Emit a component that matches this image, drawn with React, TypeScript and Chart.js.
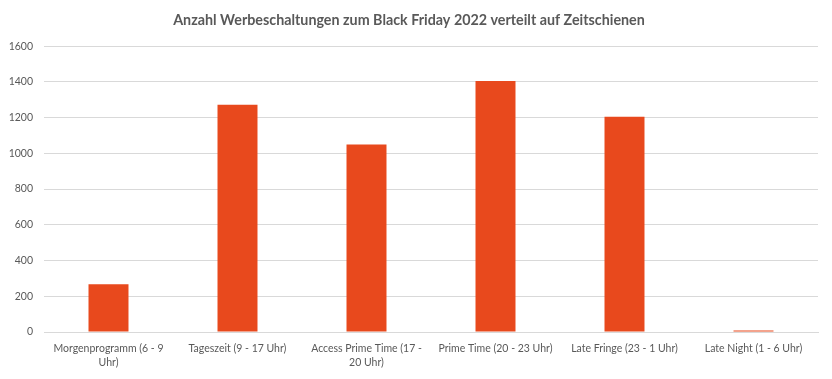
import React, { useEffect, useRef } from "react";
import { Chart, registerables } from "chart.js";

Chart.register(...registerables);

const title = "Anzahl Werbeschaltungen zum Black Friday 2022 verteilt auf Zeitschienen";
const categories: (string | string[])[] = [
  ["Morgenprogramm (6 - 9", "Uhr)"],
  "Tageszeit (9 - 17 Uhr)",
  ["Access Prime Time (17 -", "20 Uhr)"],
  "Prime Time (20 - 23 Uhr)",
  "Late Fringe (23 - 1 Uhr)",
  "Late Night (1 - 6 Uhr)",
];
const values = [267, 1272, 1050, 1405, 1205, 8];
const yMin = 0;
const yMax = 1600;
const yStep = 200;

const FONT = "Lato, 'Open Sans', sans-serif";
const TEXT = "#595959";
const GRID = "#d9d9d9";
const BAR = "#E8491D";

export default function App() {
  const ref = useRef<HTMLCanvasElement | null>(null);
  useEffect(() => {
    if (!ref.current) return;
    const chart = new Chart(ref.current, {
      type: "bar",
      data: {
        labels: categories,
        datasets: [
          {
            data: values,
            backgroundColor: BAR,
            borderWidth: 0,
            categoryPercentage: 1,
            barPercentage: 0.31,
          },
        ],
      },
      options: {
        animation: false,
        responsive: true,
        maintainAspectRatio: false,
        layout: { padding: { left: 0, right: 14, top: 0, bottom: 0 } },
        plugins: {
          legend: { display: false },
          tooltip: { enabled: false },
          title: {
            display: true,
            text: title,
            color: TEXT,
            font: { family: FONT, size: 14.3, weight: "bold", lineHeight: 1.2 },
            padding: { top: 12, bottom: 17 },
          },
        },
        scales: {
          x: {
            grid: { display: false, drawTicks: false },
            border: { display: true, color: GRID, width: 1 },
            ticks: {
              color: TEXT,
              font: { family: FONT, size: 10.5, lineHeight: 1.4 },
              maxRotation: 0,
              minRotation: 0,
              autoSkip: false,
              padding: 9,
            },
            afterFit: (s: any) => {
              s.height = 47;
            },
          },
          y: {
            min: yMin,
            max: yMax,
            grid: { color: GRID, drawTicks: false },
            border: { display: false },
            ticks: {
              stepSize: yStep,
              color: TEXT,
              font: { family: FONT, size: 10.5 },
              padding: 11,
              callback: (v: any) => String(v),
            },
            afterFit: (s: any) => {
              s.width = 44;
            },
          },
        },
      },
    });
    return () => chart.destroy();
  }, []);
  return (
    <div style={{ position: "absolute", left: 0, top: 0, width: 832, height: 379, background: "#fff" }}>
      <canvas ref={ref} />
    </div>
  );
}
